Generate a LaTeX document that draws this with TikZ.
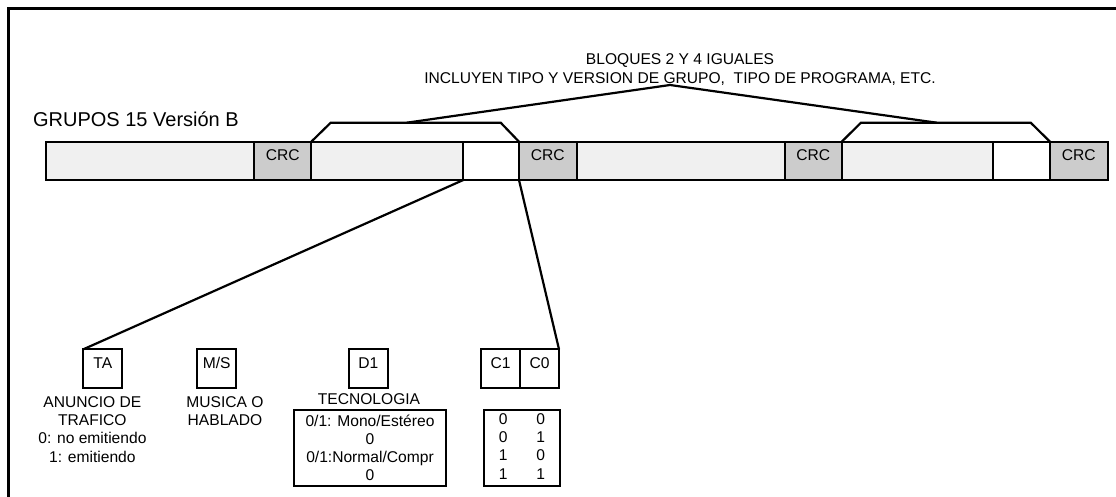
\documentclass[tikz,border=0pt]{standalone}
\usepackage{fontspec}
\setmainfont{Liberation Sans}
\usetikzlibrary{positioning}

\definecolor{blockgray}{HTML}{F0F0F0}
\definecolor{crcgray}{HTML}{CCCCCC}

\tikzset{
  every node/.style={font=\fontsize{15.6}{18.3}\selectfont},
  blk/.style={draw, fill=blockgray, minimum height=38.3pt, inner sep=0pt, outer sep=0pt, anchor=west},
  crcblk/.style={blk, fill=crcgray, text height=11pt, text depth=11pt},
  freeblk/.style={blk, fill=white},
  bitbox/.style={draw, minimum size=39pt, inner sep=0pt, outer sep=0pt, text height=11pt, text depth=11pt},
  note/.style={align=center, inner sep=0pt, anchor=north},
}

\begin{document}
\begin{tikzpicture}[x=1pt, y=-1pt, line width=2.2pt]
  \useasboundingbox (0,0) rectangle (1116,497);
  % marco
  \draw (8.5,497) -- (8.5,8.5) -- (1116,8.5);

  % titulos
  \node[anchor=base west, inner sep=0pt, font=\fontsize{20}{24}\selectfont] (titulo) at (32,126.7) {GRUPOS 15 Versión B};
  \node[anchor=base, inner sep=0pt] (bloques) at (680,65) {BLOQUES 2 Y 4 IGUALES};
  \node[anchor=base, inner sep=0pt] (incluyen) at (680,83.3) {INCLUYEN TIPO Y VERSION DE GRUPO,\ \ TIPO DE PROGRAMA, ETC.};

  % los cuatro bloques del grupo
  \node[blk, minimum width=208.3pt] (b1) at (45.7,160.85) {};
  \node[crcblk, minimum width=57.3pt, right=0pt of b1] (crc1) {CRC};
  \node[blk, minimum width=152pt, right=0pt of crc1] (b2) {};
  \node[freeblk, minimum width=55.7pt, right=0pt of b2] (w2) {};
  \node[crcblk, minimum width=57.7pt, right=0pt of w2] (crc2) {CRC};
  \node[blk, minimum width=208.3pt, right=0pt of crc2] (b3) {};
  \node[crcblk, minimum width=56.7pt, right=0pt of b3] (crc3) {CRC};
  \node[blk, minimum width=151.6pt, right=0pt of crc3] (b4) {};
  \node[freeblk, minimum width=56.7pt, right=0pt of b4] (w4) {};
  \node[crcblk, minimum width=57.7pt, right=0pt of w4] (crc4) {CRC};

  % llaves sobre los bloques 2 y 4
  \coordinate (t1a) at (330.7,122.7);
  \coordinate (t1b) at (500.7,122.7);
  \coordinate (t2a) at (861,122.7);
  \coordinate (t2b) at (1030.7,122.7);
  \coordinate (m1) at (406.7,122.7);
  \coordinate (m2) at (936.7,122.7);
  \coordinate (pico) at (670,85);
  \draw (b2.north west) -- (t1a) -- (t1b) -- (w2.north east);
  \draw (b4.north west) -- (t2a) -- (t2b) -- (w4.north east);
  \draw (m1) -- (pico) -- (m2);

  % bits del bloque 2
  \node[bitbox] (ta) at (102.8,368.8) {TA};
  \node[bitbox] (ms) at (216.7,368.8) {M/S};
  \node[bitbox] (d1) at (368.3,368.8) {D1};
  \node[bitbox] (c1) at (500.5,368.8) {C1};
  \node[bitbox, right=0pt of c1] (c0) {C0};

  \node[note] (ta text) at (92.4,395.2) {ANUNCIO DE\\TRAFICO\\0: no emitiendo\\1: emitiendo};
  \node[note] (ms text) at (225,395.2) {MUSICA O\\HABLADO};
  \node[note] (d1 text) at (369,392.8) {TECNOLOGIA};
  \node[draw, align=center, minimum width=151.4pt, minimum height=75.7pt, inner sep=0pt] (d1 tabla) at (370,447.85) {0/1: Mono/Estéreo\\0\\0/1:Normal/Compr\\0};
  \node[draw, minimum width=76pt, minimum height=76pt, inner sep=0pt] (c tabla) at (522,448) {\setlength{\tabcolsep}{14.4pt}\begin{tabular}{cc}0&0\\0&1\\1&0\\1&1\end{tabular}};

  \draw (w2.south west) -- (ta.north west);
  \draw (crc2.south west) -- (c0.north east);
\end{tikzpicture}
\end{document}
